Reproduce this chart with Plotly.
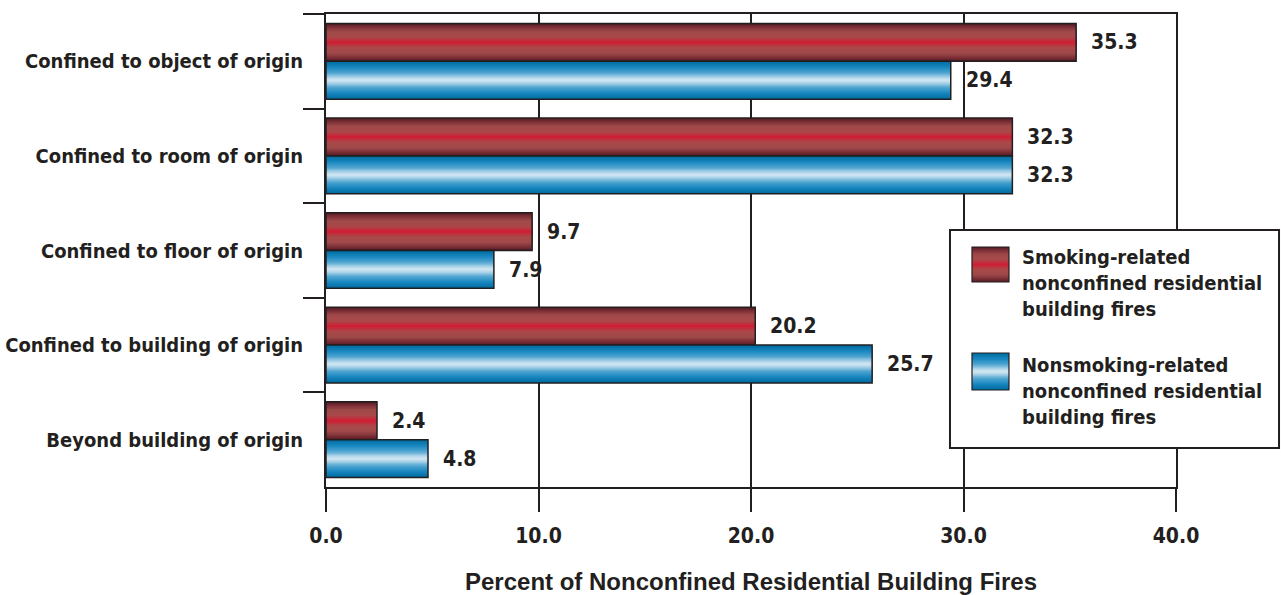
import plotly.graph_objects as go

# Fire spread extent, percent of nonconfined residential building fires
categories = [
    "Confined to object of origin",
    "Confined to room of origin",
    "Confined to floor of origin",
    "Confined to building of origin",
    "Beyond building of origin",
]
smoking = [35.3, 32.3, 9.7, 20.2, 2.4]
nonsmoking = [29.4, 32.3, 7.9, 25.7, 4.8]
x_ticks = [0, 10, 20, 30, 40]

series_names = [
    "Smoking-related<br>nonconfined residential<br>building fires",
    "Nonsmoking-related<br>nonconfined residential<br>building fires",
]

# Colour ramps from the bar's edge (t=1) to its centre line (t=0)
RED_STOPS = [(0.0, (214, 18, 44)), (0.12, (196, 44, 60)), (0.3, (170, 72, 74)),
             (0.6, (160, 74, 74)), (0.85, (122, 46, 54)), (1.0, (88, 28, 36))]
BLUE_STOPS = [(0.0, (222, 238, 246)), (0.18, (170, 210, 232)), (0.42, (78, 164, 208)),
              (0.7, (26, 136, 192)), (1.0, (0, 110, 162))]

FONT_NARROW = "DejaVu Sans Condensed, Liberation Sans Narrow, Arial Narrow, sans-serif"
FONT_WIDE = "Liberation Sans, Arial, sans-serif"
INK = "#231f20"

BAR_W = 0.4
LAYERS = 16


def ramp(stops, t):
    for (t0, c0), (t1, c1) in zip(stops, stops[1:]):
        if t0 <= t <= t1:
            f = (t - t0) / (t1 - t0) if t1 > t0 else 0
            r, g, b = (round(a + (b_ - a) * f) for a, b_ in zip(c0, c1))
            return f"rgb({r},{g},{b})"
    r, g, b = stops[-1][1]
    return f"rgb({r},{g},{b})"


def bold(size, family=FONT_NARROW):
    return dict(family=family, size=size, color=INK, weight="bold")


fig = go.Figure()


def shaded_bars(values, stops, centre):
    # nested bars, each narrower one closer to the centre-line colour
    for k in range(LAYERS):
        t = 1 - k / LAYERS
        w = BAR_W * t
        fig.add_trace(go.Bar(
            y=categories, x=values, orientation="h",
            offset=centre - w / 2, width=w,
            marker=dict(color=ramp(stops, t), line=dict(width=0)),
            showlegend=False, hoverinfo="skip",
        ))
    fig.add_trace(go.Bar(
        y=categories, x=values, orientation="h",
        offset=centre - BAR_W / 2, width=BAR_W,
        marker=dict(color="rgba(0,0,0,0)", line=dict(width=1.5, color=INK)),
        showlegend=False, hoverinfo="x",
    ))


shaded_bars(smoking, RED_STOPS, -BAR_W / 2)
shaded_bars(nonsmoking, BLUE_STOPS, BAR_W / 2)

annotations = []
for values, shift in ((smoking, 19), (nonsmoking, -19)):
    for cat, v in zip(categories, values):
        annotations.append(dict(x=v, y=cat, yshift=shift, xshift=13, text=f"{v:.1f}",
                                xanchor="left", yanchor="middle", showarrow=False,
                                font=bold(21)))

annotations.append(dict(
    x=0.5, y=-0.20, xref="paper", yref="paper", xanchor="center", yanchor="middle",
    text="Percent of Nonconfined Residential Building Fires", showarrow=False,
    font=bold(24, FONT_WIDE)))

# legend box
shapes = [dict(type="rect", xref="paper", yref="paper", x0=0.7341, x1=1.1212,
               y0=0.0825, y1=0.5433, line=dict(color=INK, width=2),
               fillcolor="white", layer="above")]


def legend_swatch(stops, y0, y1):
    x0, x1 = 0.760, 0.8035
    n = 16
    h = (y1 - y0) / 2
    mid = (y0 + y1) / 2
    for k in range(n):
        t = 1 - k / n
        shapes.append(dict(type="rect", xref="paper", yref="paper", x0=x0, x1=x1,
                           y0=mid - h * t, y1=mid + h * t, line=dict(width=0),
                           fillcolor=ramp(stops, t), layer="above"))
    shapes.append(dict(type="rect", xref="paper", yref="paper", x0=x0, x1=x1,
                       y0=y0, y1=y1, line=dict(color=INK, width=1.2),
                       fillcolor="rgba(0,0,0,0)", layer="above"))


legend_swatch(RED_STOPS, 0.4334, 0.5074)
legend_swatch(BLUE_STOPS, 0.2051, 0.2833)

for name, ytop in zip(series_names, [0.515, 0.287]):
    annotations.append(dict(x=0.8165, y=ytop, xref="paper", yref="paper",
                            xanchor="left", yanchor="top", align="left",
                            text=name, showarrow=False, font=bold(20)))

fig.update_layout(
    barmode="overlay",
    width=1281, height=595,
    margin=dict(l=326, r=105, t=14, b=108),
    plot_bgcolor="white", paper_bgcolor="white",
    showlegend=False,
    font=bold(21),
    annotations=annotations,
    shapes=shapes,
    xaxis=dict(
        range=[0, 40], tickvals=x_ticks, tickformat=".1f",
        showgrid=True, gridcolor=INK, gridwidth=2,
        ticks="outside", ticklen=23, tickwidth=2, tickcolor=INK,
        ticklabelstandoff=6, automargin=False,
        showline=True, linecolor=INK, linewidth=2, mirror=True,
        zeroline=False,
        tickfont=bold(21),
    ),
    yaxis=dict(
        type="category", autorange="reversed", tickson="boundaries",
        ticks="outside", ticklen=21, tickwidth=2, tickcolor=INK,
        ticklabelstandoff=17, automargin=False,
        showgrid=False,
        showline=True, linecolor=INK, linewidth=2, mirror=True,
        tickfont=bold(20),
    ),
)

fig.write_html("out.html")
